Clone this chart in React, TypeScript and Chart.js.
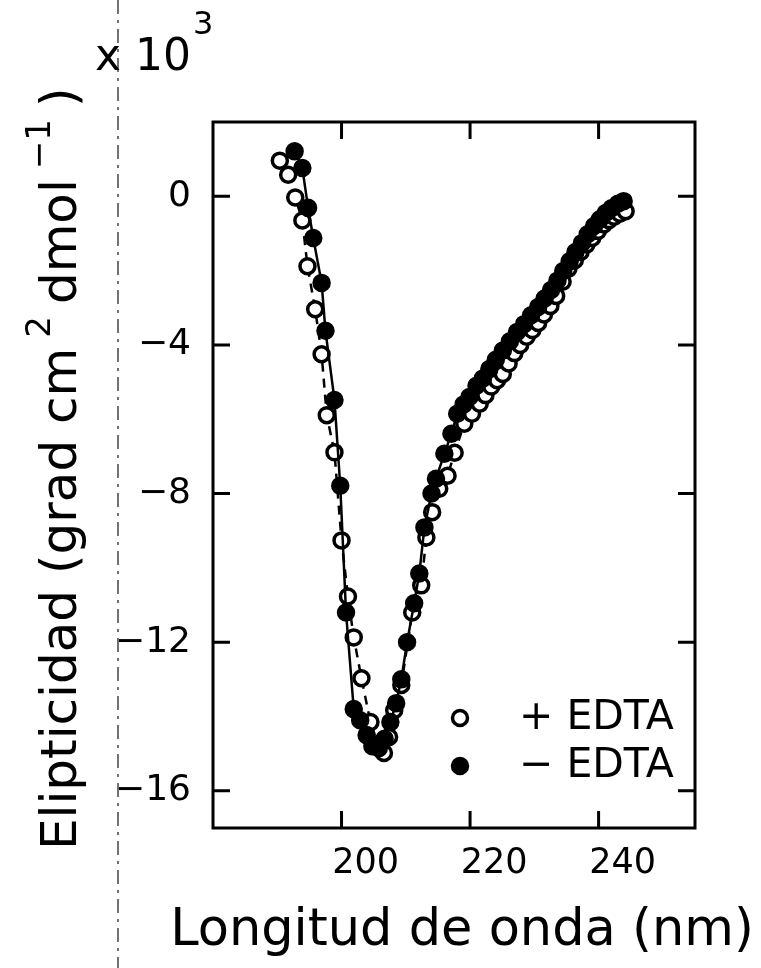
import React, { useEffect, useRef } from 'react';
import { Chart, registerables } from 'chart.js';

Chart.register(...registerables);

// +EDTA (open circles, dashed line)
const WAVELENGTH_PLUS = [
  190.4, 191.7, 192.8, 193.9, 194.7, 195.9, 196.9, 197.7, 198.9, 200.0,
  201.0, 201.9, 203.1, 204.5, 205.6, 206.6, 207.4, 208.2, 209.3, 211.0,
  212.4, 213.2, 214.1, 215.2, 216.5, 217.6, 219.1, 220.3, 221.5, 222.4,
  223.3, 224.2, 225.1, 226.0, 226.9, 227.8, 228.8, 229.7, 230.6, 231.5,
  232.5, 233.4, 234.4, 235.3, 236.3, 237.2, 238.1, 239.0, 239.9, 240.8,
  241.6, 242.4, 243.3, 244.2,
];
const ELLIP_PLUS = [
  0.96, 0.58, -0.03, -0.65, -1.88, -3.04, -4.25, -5.89, -6.89, -9.26,
  -10.77, -11.87, -12.97, -14.15, -14.75, -14.98, -14.55, -13.83, -13.15, -11.2,
  -10.47, -9.18, -8.5, -7.87, -7.52, -6.9, -6.12, -5.85, -5.58, -5.35,
  -5.12, -4.95, -4.78, -4.5, -4.22, -4.0, -3.78, -3.6, -3.41, -3.18,
  -2.95, -2.68, -2.3, -1.95, -1.72, -1.5, -1.3, -1.12, -0.93, -0.76,
  -0.64, -0.55, -0.47, -0.4,
];

// -EDTA (filled circles, solid line)
const WAVELENGTH_MINUS = [
  192.7, 193.9, 194.8, 195.6, 196.9, 197.5, 198.9, 199.8, 200.7, 201.9,
  202.9, 203.9, 204.8, 205.8, 206.7, 207.6, 208.5, 209.3, 210.2, 211.3,
  212.1, 212.9, 214.0, 214.7, 216.0, 217.1, 218.0, 219.0, 219.9, 221.0,
  222.0, 223.0, 224.0, 225.1, 226.2, 227.3, 228.4, 229.5, 230.6, 231.6,
  232.6, 233.6, 234.5, 235.5, 236.4, 237.4, 238.3, 239.3, 240.2, 241.1,
  242.0, 243.0, 243.9,
];
const ELLIP_MINUS = [
  1.21, 0.76, -0.31, -1.12, -2.33, -3.62, -5.48, -7.79, -11.2, -13.8,
  -14.1, -14.5, -14.8, -14.85, -14.6, -14.15, -13.64, -13.0, -12.0, -10.95,
  -10.15, -8.91, -8.0, -7.6, -6.93, -6.39, -5.85, -5.6, -5.4, -5.1,
  -4.9, -4.65, -4.4, -4.15, -3.9, -3.65, -3.44, -3.2, -2.98, -2.75,
  -2.52, -2.27, -2.01, -1.75, -1.5, -1.26, -1.02, -0.8, -0.62, -0.45,
  -0.32, -0.2, -0.13,
];

const X_TICKS = [200, 220, 240];
const Y_TICKS = [0, -4, -8, -12, -16];
const X_RANGE = [180, 255];
const Y_RANGE = [-17, 2];
const SERIES_LABELS = ['+ EDTA', '\u2212 EDTA'];
const X_TITLE = 'Longitud de onda (nm)';
// [text, isSuperscript]
const Y_TITLE_PARTS: [string, boolean][] = [
  ['Elipticidad (grad cm', false],
  ['2', true],
  ['dmol', false],
  ['\u22121', true],
  [')', false],
];
const MULTIPLIER_TEXT = ['x 10', '3'];

const FONT = '"DejaVu Sans", sans-serif';

const framePlugin = {
  id: 'frame',
  afterDraw(chart: any) {
    const { ctx, chartArea, scales } = chart;
    const { left, right, top, bottom } = chartArea;
    const x = scales.x;
    const y = scales.y;
    ctx.save();

    // faint dash-dot fold line of the scanned page
    ctx.strokeStyle = '#444';
    ctx.lineWidth = 1.5;
    ctx.setLineDash([14, 6, 3, 6]);
    ctx.beginPath();
    ctx.moveTo(left - 95, 0);
    ctx.lineTo(left - 95, chart.height);
    ctx.stroke();

    ctx.strokeStyle = '#000';
    ctx.lineWidth = 3;
    ctx.setLineDash([]);
    ctx.strokeRect(left, top, right - left, bottom - top);
    const L = 17;
    ctx.beginPath();
    X_TICKS.forEach((v) => {
      const px = x.getPixelForValue(v);
      ctx.moveTo(px, bottom);
      ctx.lineTo(px, bottom - L);
      ctx.moveTo(px, top);
      ctx.lineTo(px, top + L);
    });
    Y_TICKS.forEach((v) => {
      const py = y.getPixelForValue(v);
      ctx.moveTo(left, py);
      ctx.lineTo(left + L, py);
      ctx.moveTo(right, py);
      ctx.lineTo(right - L, py);
    });
    ctx.stroke();

    // legend
    const rows = [bottom - 110, bottom - 62];
    const cx = right - 235;
    ctx.font = `41px ${FONT}`;
    ctx.textBaseline = 'middle';
    ctx.textAlign = 'left';
    rows.forEach((ry, i) => {
      ctx.beginPath();
      ctx.arc(cx, ry, 7.5, 0, Math.PI * 2);
      ctx.fillStyle = i === 0 ? '#fff' : '#000';
      ctx.fill();
      ctx.lineWidth = 3.5;
      ctx.strokeStyle = '#000';
      ctx.stroke();
      ctx.fillStyle = '#000';
      ctx.fillText(SERIES_LABELS[i], right - 176, ry);
    });

    // multiplier "x 10^3"
    ctx.fillStyle = '#000';
    ctx.font = `44px ${FONT}`;
    ctx.textBaseline = 'alphabetic';
    ctx.fillText(MULTIPLIER_TEXT[0], left - 118, top - 52);
    const w = ctx.measureText(MULTIPLIER_TEXT[0]).width;
    ctx.font = `32px ${FONT}`;
    ctx.fillText(MULTIPLIER_TEXT[1], left - 118 + w + 2, top - 88);

    // x axis title
    ctx.font = `51px ${FONT}`;
    ctx.textAlign = 'center';
    ctx.fillText(X_TITLE, (left + right) / 2 + 8, bottom + 117);

    // y axis title (rotated, with superscripts)
    ctx.save();
    ctx.translate(left - 137, bottom + 22);
    ctx.rotate(-Math.PI / 2);
    ctx.textAlign = 'left';
    let cursor = 0;
    Y_TITLE_PARTS.forEach(([t, sup], i) => {
      ctx.font = sup ? `34px ${FONT}` : `50px ${FONT}`;
      if (i > 0) cursor += sup ? 10 : 12;
      ctx.fillText(t, cursor, sup ? -26 : 0);
      cursor += ctx.measureText(t).width;
    });
    ctx.restore();

    ctx.restore();
  },
};

export default function App() {
  const ref = useRef<HTMLCanvasElement>(null);
  useEffect(() => {
    if (!ref.current) return;
    const chart = new Chart(ref.current, {
      type: 'scatter',
      data: {
        datasets: [
          {
            label: SERIES_LABELS[0],
            data: WAVELENGTH_PLUS.map((v, i) => ({ x: v, y: ELLIP_PLUS[i] })),
            showLine: true,
            borderColor: '#000',
            borderWidth: 2.5,
            borderDash: [9, 7],
            pointRadius: 7.5,
            pointBorderWidth: 3.5,
            pointBackgroundColor: '#fff',
            pointBorderColor: '#000',
            order: 1,
          },
          {
            label: SERIES_LABELS[1],
            data: WAVELENGTH_MINUS.map((v, i) => ({ x: v, y: ELLIP_MINUS[i] })),
            showLine: true,
            borderColor: '#000',
            borderWidth: 2.5,
            pointRadius: 7.5,
            pointBorderWidth: 3.5,
            pointBackgroundColor: '#000',
            pointBorderColor: '#000',
            order: 0,
          },
        ],
      },
      options: {
        animation: false,
        responsive: false,
        maintainAspectRatio: false,
        layout: { padding: { left: 0, top: 122, right: 66, bottom: 0 } },
        plugins: { legend: { display: false }, tooltip: { enabled: false } },
        scales: {
          x: {
            type: 'linear',
            min: X_RANGE[0],
            max: X_RANGE[1],
            afterBuildTicks: (s: any) => {
              s.ticks = X_TICKS.map((v) => ({ value: v }));
            },
            afterFit: (s: any) => {
              s.height = 140;
            },
            grid: { display: false, drawTicks: false },
            border: { display: false },
            ticks: {
              color: '#000',
              font: { family: FONT, size: 35 },
              padding: 15,
              labelOffset: 24,
              maxRotation: 0,
              autoSkip: false,
            },
            title: { display: false, text: X_TITLE },
          },
          y: {
            type: 'linear',
            min: Y_RANGE[0],
            max: Y_RANGE[1],
            afterBuildTicks: (s: any) => {
              s.ticks = Y_TICKS.map((v) => ({ value: v }));
            },
            afterFit: (s: any) => {
              s.width = 213;
            },
            grid: { display: false, drawTicks: false },
            border: { display: false },
            ticks: {
              color: '#000',
              font: { family: FONT, size: 36 },
              padding: 22,
              callback: (v: any) => (v < 0 ? '\u2212' + Math.abs(v) : String(v)),
            },
            title: { display: false },
          },
        },
      },
      plugins: [framePlugin],
    });
    return () => chart.destroy();
  }, []);
  return (
    <div style={{ position: 'absolute', left: 0, top: 0, width: 761, height: 968, background: '#fff' }}>
      <canvas ref={ref} width={761} height={968} />
    </div>
  );
}
